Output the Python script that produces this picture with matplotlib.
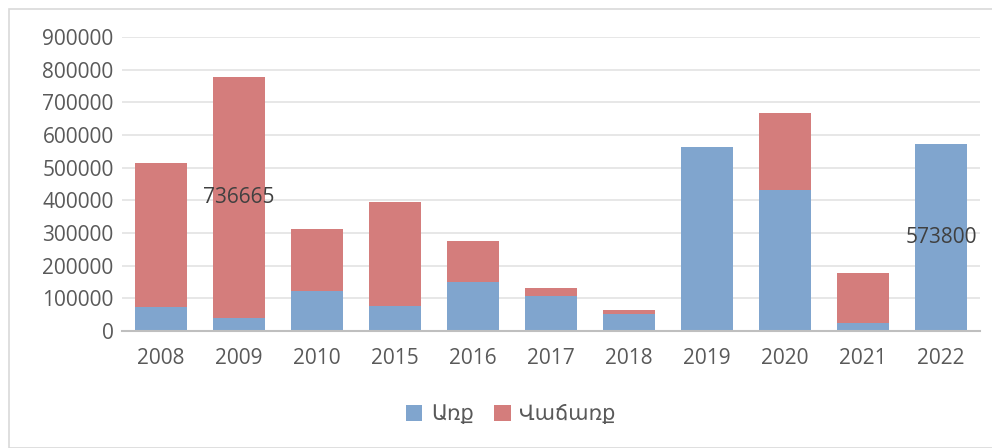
import matplotlib
matplotlib.use("Agg")
from matplotlib import pyplot as plt
from matplotlib.patches import Rectangle
import numpy as np

# data
years = ["2008", "2009", "2010", "2015", "2016", "2017", "2018", "2019", "2020", "2021", "2022"]
buy = [73000, 40000, 122000, 76000, 150000, 107000, 52000, 563000, 431000, 24000, 573800]
sell = [441000, 736665, 190000, 318000, 125000, 24000, 12000, 0, 236000, 153000, 0]
labels_shown = {("sell", 1): "736665", ("buy", 10): "573800"}

plt.rcParams['font.family'] = ['Open Sans', 'DejaVu Sans']

fig = plt.figure(figsize=(9.92, 4.48), dpi=100)
ax = fig.add_axes([0.123, 0.261, 0.865, 0.656])

x = np.arange(len(years))
blue = "#80A5CE"
red = "#D47D7C"
b1 = ax.bar(x, buy, width=0.667, color=blue, label="Առք", zorder=1)
b2 = ax.bar(x, sell, width=0.667, bottom=buy, color=red, label="Վաճառք", zorder=1)

ax.set_ylim(0, 900000)
ax.set_xlim(-0.5, len(years) - 0.5)
ax.set_yticks(np.arange(0, 900001, 100000))
ax.yaxis.grid(True, color="#E3E3E3", linewidth=1.2, zorder=0)
ax.set_axisbelow(True)
ax.set_xticks(x)
ax.set_xticklabels(years)
ax.tick_params(axis="both", length=0, labelsize=15, colors="#595959")
ax.tick_params(axis="x", pad=12)
ax.tick_params(axis="y", pad=6)
for s in ["top", "right", "left"]:
    ax.spines[s].set_visible(False)
ax.spines["bottom"].set_color("#BFBFBF")
ax.spines["bottom"].set_linewidth(1.5)

# data labels
for (ser, i), txt in labels_shown.items():
    if ser == "sell":
        yc = buy[i] + sell[i] / 2
    else:
        yc = buy[i] / 2
    ax.text(x[i], yc, txt, ha="center", va="center", fontsize=15, color="#404040", zorder=5)

ax.legend(loc="upper center", bbox_to_anchor=(0.453, -0.185), ncol=2, frameon=False,
          fontsize=15, handlelength=0.8, handleheight=0.8, columnspacing=1.0,
          handletextpad=0.4, labelcolor="#595959")

# outer frame
fig.patches.append(Rectangle((9 / 992, 0), 1, 1 - 9 / 448, transform=fig.transFigure,
                             fill=False, edgecolor="#D9D9D9", linewidth=1.2))

fig.savefig("out.png", dpi=100)
